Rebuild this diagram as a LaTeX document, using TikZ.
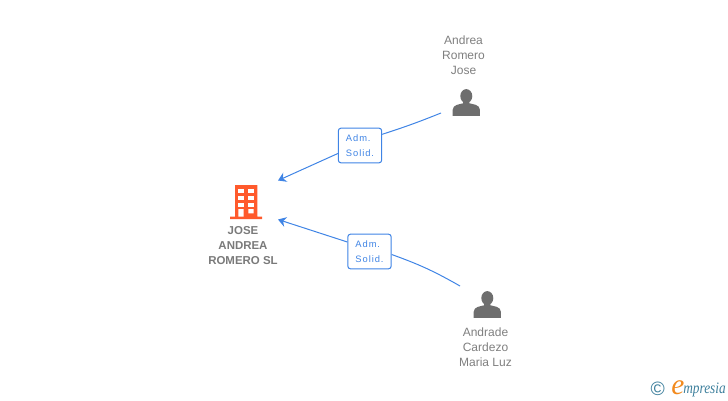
\documentclass[tikz,border=0pt]{standalone}
\usepackage{fontspec}
\setmainfont{Liberation Sans}
\newfontfamily\boxfont[LetterSpace=10]{Liberation Sans}
\newfontfamily\logofont{Liberation Serif}
\usetikzlibrary{arrows.meta,positioning}
\definecolor{linkblue}{HTML}{3F84E5}
\definecolor{nametext}{HTML}{7F7F7F}
\definecolor{boldtext}{HTML}{7A7A7A}
\definecolor{iconGrey}{HTML}{6E6E6E}
\definecolor{buildOrange}{HTML}{FF5A2C}
\definecolor{logoTeal}{HTML}{3D7F9C}
\definecolor{logoOrange}{HTML}{F28A1E}
\tikzset{
	person/.style={font=\fontsize{9}{11.25}\selectfont,text=nametext,align=center,inner sep=0pt},
	company/.style={font=\fontsize{8.6}{11.25}\selectfont\bfseries,text=boldtext,align=center,inner sep=0pt},
	relbox/.style={draw=linkblue,rounded corners=2pt,line width=0.75pt,fill=white,text=linkblue,align=left,
		minimum width=32.5pt,minimum height=26pt,inner sep=0pt,font=\fontsize{7}{11.25}\selectfont\boxfont},
	link/.style={draw=linkblue,line width=0.75pt},
	linkhead/.style={link,-{Stealth[length=6pt,width=7.5pt,inset=2pt]}}
}
\newcommand{\personicon}[1]{
	\fill[iconGrey,shift={(#1)}] (0,-19.7) ellipse (6 and 7);
	\fill[iconGrey,shift={(#1)}] (-3,-14) -- (-3.2,-12.5) .. controls (-6,-11.5) and (-13.6,-11.5) .. (-13.6,-6) -- (-13.6,0) -- (13.6,0) -- (13.6,-6)
		.. controls (13.6,-11.5) and (6,-11.5) .. (3.2,-12.5) -- (3,-14) -- cycle;
}
\begin{document}
\begin{tikzpicture}[x=0.75pt,y=-0.75pt]
	\useasboundingbox (0,0) rectangle (728,400);

	\fill[buildOrange] (235,185) rectangle (257.3,217) (230,216.7) rectangle (262,219);
	\foreach \y in {189,195.8,202.5}
		\foreach \x in {238.3,248.3}
			\fill[white] (\x,\y) rectangle ++(5.3,4.4);
	\fill[white] (238.3,209) rectangle (243.6,216.7) (248.3,209) rectangle (253.6,213.4);
	\node[company] (jose) at (243,245.5) {JOSE\\ANDREA\\ROMERO SL};

	\personicon{466.3,115.8}
	\personicon{487.3,317.8}
	\node[person] (andrea) at (463.5,55) {Andrea\\Romero\\Jose};
	\node[person] (andrade) at (485.5,347) {Andrade\\Cardezo\\Maria Luz};

	\coordinate (A1) at (441,113);
	\coordinate (A2) at (460,286);
	\coordinate (J1) at (278,180.5);
	\coordinate (J2) at (278,219.5);

	\node[relbox] (adm1) at (360,145.5) {Adm.\\Solid.};
	\node[relbox] (adm2) at (369.5,251.5) {Adm.\\Solid.};

	\draw[link] (A1) to[bend left=2] (adm1.east |- 382,134.3);
	\draw[linkhead] (adm1.west |- 338,153.5) to (J1);
	\draw[link] (A2) to[bend right=5] (adm2.east |- 391,254.5);
	\draw[linkhead] (adm2.west |- 348,242) to (J2);

	\node[text=logoTeal,font=\fontsize{14.5}{15}\selectfont,inner sep=0pt] (copyr) at (657.7,388.5) {©};
	\node[text=logoOrange,font=\fontsize{22}{22}\selectfont\logofont\itshape,inner sep=0pt,anchor=base west] (logoe) at (671,394) {e};
	\node[text=logoTeal,font=\fontsize{10}{10}\selectfont\logofont\itshape,inner sep=0pt,anchor=base west] (logotext) at (683,393.5) {\scalebox{1}[1.2]{mpresia}};
\end{tikzpicture}
\end{document}
